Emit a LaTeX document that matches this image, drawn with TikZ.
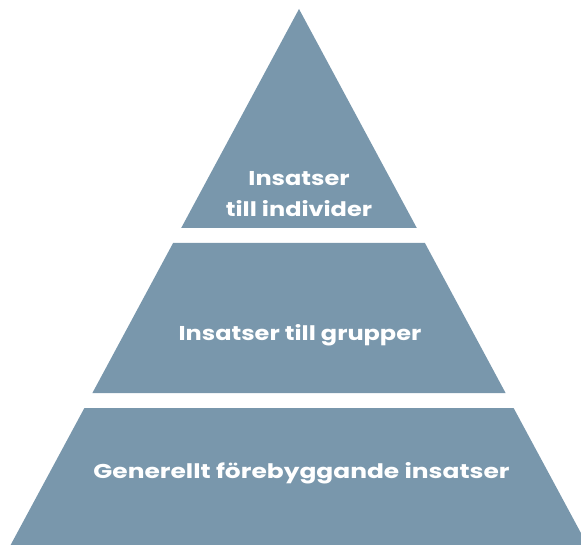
\documentclass[tikz,border=0pt]{standalone}
\usepackage{fontspec}
\setmainfont{Poppins}
\definecolor{pyr}{RGB}{121,151,172}
\begin{document}
\begin{tikzpicture}[x=1pt,y=-1pt,
  layer/.style={fill=pyr,draw=none},
  lbl/.style={text=white,font=\fontsize{20}{31}\selectfont\bfseries,align=center,transform shape,xscale=1.2}]
\useasboundingbox (0,0) rectangle (581,545);
\clip (0,0) rectangle (581,545);
% apex (299,9), half-width = 0.538*(y-9)
\fill[layer] (299,9) -- (416.8,228) -- (181.2,228) -- cycle;
\fill[layer] (173.1,243) -- (424.9,243) -- (505.6,393) -- (92.4,393) -- cycle;
\fill[layer] (84.4,408) -- (513.6,408) -- (587.4,545) -- (10.6,545) -- cycle;
\node[lbl] (top) at (299,194) {Insatser\\till individer};
\node[lbl] (mid) at (300,335) {Insatser till grupper};
\node[lbl,xscale=1.038] (bot) at (301.5,473) {Generellt förebyggande insatser};
\end{tikzpicture}
\end{document}
